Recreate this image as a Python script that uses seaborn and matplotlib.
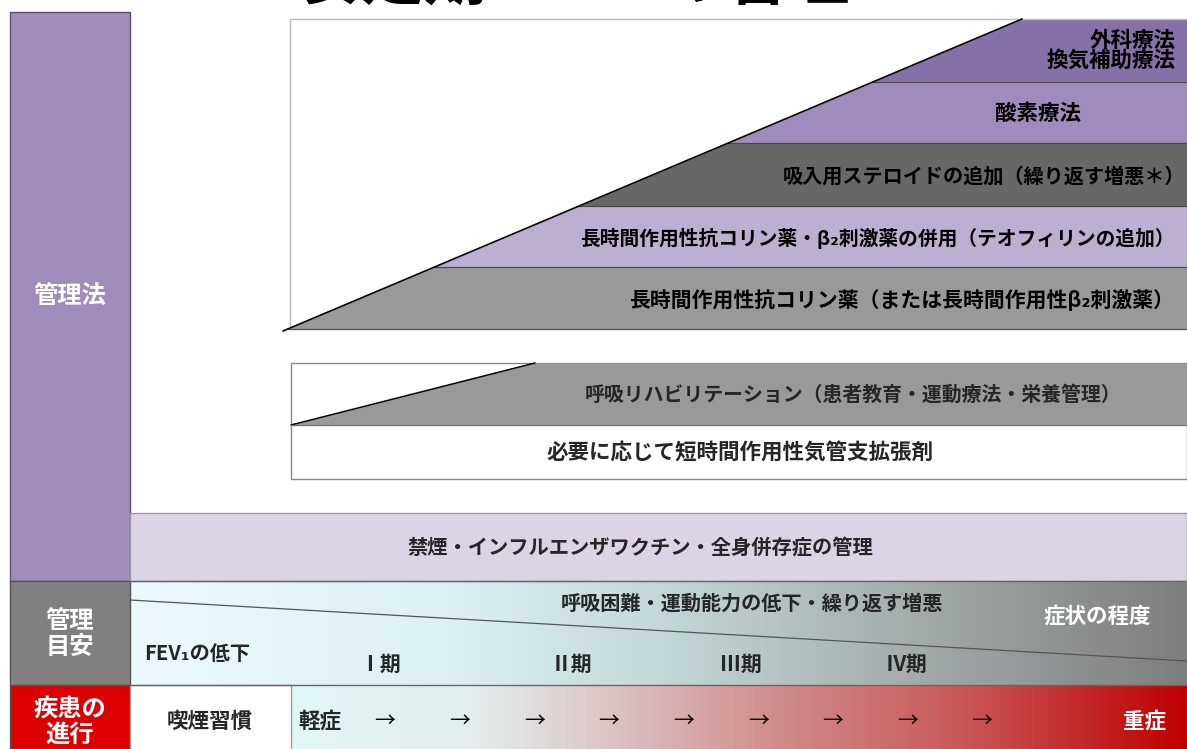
import numpy as np
import matplotlib
matplotlib.use("Agg")
import matplotlib.pyplot as plt
from matplotlib.colors import LinearSegmentedColormap
import seaborn as sns

sns.set_theme(style="white")
plt.rcParams['font.family'] = ['Noto Sans CJK JP', 'DejaVu Sans']

# ---------------- data ----------------
title = "安定期COPDの管理"
band_labels = [
    "外科療法\n換気補助療法",
    "酸素療法",
    "吸入用ステロイドの追加（繰り返す増悪＊）",
    "長時間作用性抗コリン薬・β₂刺激薬の併用（テオフィリンの追加）",
    "長時間作用性抗コリン薬（または長時間作用性β₂刺激薬）",
]
band_colors = ["#8571a7", "#a08cbc", "#676767", "#bcafd1", "#999999"]
rehab_label = "呼吸リハビリテーション（患者教育・運動療法・栄養管理）"
rescue_label = "必要に応じて短時間作用性気管支拡張剤"
base_label = "禁煙・インフルエンザワクチン・全身併存症の管理"
side_labels = ["管理法", "管理\n目安", "疾患の\n進行"]
side_colors = ["#9f8cba", "#808080", "#dd0000"]
symptom_label = "呼吸困難・運動能力の低下・繰り返す増悪"
degree_label = "症状の程度"
fev_label = "FEV₁の低下"
stages = ["Ⅰ期", "Ⅱ期", "Ⅲ期", "Ⅳ期"]
smoking_label = "喫煙習慣"
mild_label, severe_label = "軽症", "重症"
n_arrows = 9

# ---------------- layout ----------------
W, H = 1187, 749
fig = plt.figure(figsize=(W / 100, H / 100), dpi=100)
ax = fig.add_axes([0, 0, 1, 1])
ax.set_xlim(0, W)
ax.set_ylim(H, 0)
ax.axis("off")

bold = dict(fontweight="bold")

# title (cut at the top, as in the original slide)
ax.text(300, 13, title, fontsize=45, color="black", ha="left", va="bottom", **bold)

# left column
side_boxes = [(12, 581), (581, 685), (685, 760)]
side_text_y = [297, 634, 722]
for (y0, y1), col, lab, ty in zip(side_boxes, side_colors, side_labels, side_text_y):
    ax.add_patch(plt.Rectangle((10, y0), 120, y1 - y0, facecolor=col,
                               edgecolor="#5d4f70" if col == side_colors[0] else "#555555", lw=1))
    ax.text(70, ty, lab, color="white", fontsize=17.5, ha="center", va="center",
            linespacing=1.1, **bold)

# upper treatment area
top, bot = 19, 329
xL, xR = 290, W
ax.plot([xL, xR], [top, top], color="#bbbbbb", lw=1)
ax.plot([xL, xL], [top, bot], color="#bbbbbb", lw=1)
d0 = (283, 331)
d1 = (1022, top)


def xdiag(y):
    return d0[0] + (d0[1] - np.asarray(y)) * (d1[0] - d0[0]) / (d0[1] - d1[1])


edges = [19, 82, 143, 206, 267, 329]
for i, col in enumerate(band_colors):
    yy = np.linspace(edges[i], edges[i + 1], 20)
    ax.fill_betweenx(yy, xdiag(yy), xR, color=col, lw=0)
for e in edges[1:]:
    ax.plot([xdiag(e), xR], [e, e], color="#4a4a4a", lw=0.9)
sns.lineplot(x=[d0[0], d1[0]], y=[d0[1], d1[1]], color="black", lw=1.2, ax=ax)

label_pos = [(1176, 50, "right", 15.5), (1038, 113, "center", 15.5),
             (783, 176, "left", 14.5), (877, 238, "center", 14.2),
             (902, 300, "center", 15)]
for (tx, ty, ha, fs), lab in zip(label_pos, band_labels):
    ax.text(tx, ty, lab, fontsize=fs, ha=ha, va="center", color="black",
            linespacing=0.95, **bold)

# rehab / rescue box
r0, rm, r1 = 363, 425, 479
rx0 = 291
ax.add_patch(plt.Rectangle((rx0, r0), W - rx0, r1 - r0, facecolor="white",
                           edgecolor="#888888", lw=1))
ryy = np.linspace(r0, rm, 20)
rdx = rx0 + (rm - ryy) * (535 - rx0) / (rm - r0)
ax.fill_betweenx(ryy, rdx, W, color="#999999", lw=0)
sns.lineplot(x=[rx0, 535], y=[rm, r0], color="black", lw=1.1, ax=ax)
ax.plot([rx0, W], [rm, rm], color="#777777", lw=1)
ax.text(853, 394, rehab_label, fontsize=14.3, ha="center", va="center", **bold)
ax.text(740, 453, rescue_label, fontsize=15.5, ha="center", va="center", **bold)

# base band
ax.add_patch(plt.Rectangle((130, 513), W - 130, 68, facecolor="#dcd4e5",
                           edgecolor="#9a9a9a", lw=1))
ax.text(640, 547, base_label, fontsize=14.6, ha="center", va="center", **bold)

# management guide row (gradient)
g_cmap = LinearSegmentedColormap.from_list(
    "g", [(0, "#ecf9fc"), (0.3, "#ddf1f4"), (0.5, "#c4d8d9"), (0.75, "#a3aaaa"), (1, "#7e7e7e")])
grad = np.linspace(0, 1, 256)[None, :]
ax.imshow(grad, cmap=g_cmap, extent=(130, W, 685, 581), aspect="auto", zorder=0)
ax.plot([130, W], [581, 581], color="#666666", lw=1)
ax.plot([130, W], [685, 685], color="#666666", lw=1)
ax.plot([130, W], [600, 661], color="#555555", lw=0.9)
ax.text(752, 603, symptom_label, fontsize=14.5, ha="center", va="center", **bold)
ax.text(1097, 616, degree_label, fontsize=15.5, ha="center", va="center", color="white", **bold)
ax.text(144, 653, fev_label, fontsize=14.5, ha="left", va="center", **bold)
for sx, st in zip([380, 571, 741, 907], stages):
    ax.text(sx, 664, st, fontsize=15, ha="center", va="center", **bold)

# progression row
ax.add_patch(plt.Rectangle((130, 685), 161, 70, facecolor="white", edgecolor="#999999", lw=1))
ax.text(210, 721, smoking_label, fontsize=15.5, ha="center", va="center", **bold)
p_cmap = LinearSegmentedColormap.from_list(
    "p", [(0, "#e2f6f8"), (0.2, "#e4eeee"), (0.35, "#dcc6c6"), (0.55, "#d08a8a"),
          (0.75, "#c95858"), (0.88, "#c32a2a"), (1, "#c00000")])
ax.imshow(grad, cmap=p_cmap, extent=(291, W, 760, 685), aspect="auto", zorder=0)
ax.text(298, 721, mild_label, fontsize=15.5, ha="left", va="center", **bold)
for axx in np.linspace(385, 982, n_arrows):
    ax.text(axx, 721, "→", fontsize=15, ha="center", va="center", color="black")
ax.text(1145, 721, severe_label, fontsize=15.5, ha="center", va="center", color="white", **bold)

ax.set_xlim(0, W)
ax.set_ylim(H, 0)
fig.savefig("out.png", dpi=100)
